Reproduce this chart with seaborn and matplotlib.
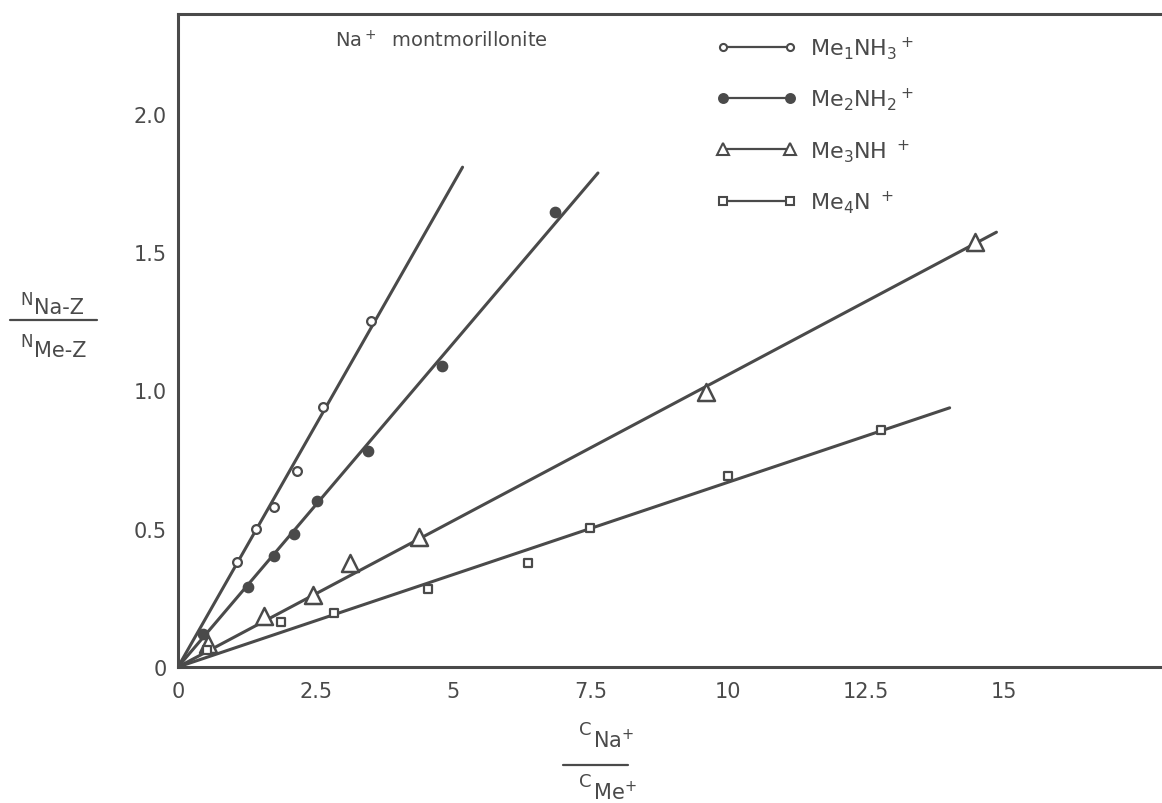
import matplotlib
matplotlib.use("Agg")
import matplotlib.pyplot as plt
import seaborn as sns
import pandas as pd
from matplotlib.lines import Line2D

# Exchange data on Na+ montmorillonite: x = C(Na+)/C(Me+), y = N(Na-Z)/N(Me-Z)
me1_x = [1.08, 1.42, 1.75, 2.16, 2.64, 3.50]
me1_y = [0.38, 0.50, 0.58, 0.71, 0.94, 1.25]

me2_x = [0.45, 1.27, 1.74, 2.11, 2.53, 3.45, 4.80, 6.85]
me2_y = [0.12, 0.29, 0.40, 0.48, 0.60, 0.78, 1.09, 1.645]

me3_x = [0.54, 1.57, 2.46, 3.13, 4.37, 9.59, 14.48]
me3_y = [0.083, 0.184, 0.261, 0.376, 0.470, 0.993, 1.535]

me4_x = [0.52, 1.87, 2.84, 4.55, 6.36, 7.49, 9.99, 12.77]
me4_y = [0.06, 0.164, 0.195, 0.283, 0.376, 0.502, 0.690, 0.858]

# straight-line fits through the origin (start and end of each drawn line)
fit_x = {"me1": [0.0, 5.17], "me2": [0.0, 7.63], "me3": [0.0, 14.87], "me4": [0.0, 14.02]}
fit_y = {"me1": [0.0, 1.807], "me2": [0.0, 1.786], "me3": [0.0, 1.572], "me4": [0.0, 0.937]}

series_labels = {
    "me1": r"Me$_1$NH$_3$$^+$",
    "me2": r"Me$_2$NH$_2$$^+$",
    "me3": r"Me$_3$NH $^+$",
    "me4": r"Me$_4$N $^+$",
}

x_ticks = [0, 2.5, 5, 7.5, 10, 12.5, 15]
x_ticklabels = ["0", "2.5", "5", "7.5", "10", "12.5", "15"]
y_ticks = [0, 0.5, 1.0, 1.5, 2.0]
y_ticklabels = ["0", "0.5", "1.0", "1.5", "2.0"]

INK = "#4a4a4a"

sns.set_style("white")
plt.rcParams["font.family"] = ["DejaVu Sans"]
plt.rcParams["mathtext.fontset"] = "dejavusans"

W, H = 1162, 804
fig = plt.figure(figsize=(W / 100, H / 100), dpi=100)
ax = fig.add_axes([178 / W, 1 - 668 / H, (W - 178) / W, (668 - 15) / H])

styles = {
    "me1": dict(marker="o", s=40, facecolor="white", edgecolor=INK, linewidth=1.6),
    "me2": dict(marker="o", s=55, facecolor=INK, edgecolor=INK, linewidth=1.0),
    "me3": dict(marker="^", s=150, facecolor="white", edgecolor=INK, linewidth=1.8),
    "me4": dict(marker="s", s=40, facecolor="white", edgecolor=INK, linewidth=1.6),
}
points = {"me1": (me1_x, me1_y), "me2": (me2_x, me2_y),
          "me3": (me3_x, me3_y), "me4": (me4_x, me4_y)}

for key in ["me1", "me2", "me3", "me4"]:
    line_df = pd.DataFrame({"x": fit_x[key], "y": fit_y[key]})
    sns.lineplot(data=line_df, x="x", y="y", ax=ax, color=INK, lw=2.2,
                 estimator=None, sort=False, zorder=2)
for key in ["me1", "me2", "me3", "me4"]:
    px, py = points[key]
    sns.scatterplot(x=px, y=py, ax=ax, zorder=3, clip_on=False, **styles[key])

ax.set_xlim(0, (W - 178.7) / 55.0)
ax.set_ylim(0, (668 - 15) / 276.6)
ax.set_xticks(x_ticks)
ax.set_xticklabels(x_ticklabels)
ax.set_yticks(y_ticks)
ax.set_yticklabels(y_ticklabels)
ax.tick_params(direction="in", length=4, width=1.2, colors=INK,
               labelsize=15, labelcolor=INK)
ax.tick_params(axis="x", pad=10)
ax.tick_params(axis="y", pad=8)
ax.set_xlabel("")
ax.set_ylabel("")
for side in ["left", "bottom", "top"]:
    ax.spines[side].set_color(INK)
    ax.spines[side].set_linewidth(2.2)
ax.spines["right"].set_visible(False)

# title inside the frame
ax.text(0.160, 0.960, r"Na$^+$  montmorillonite", transform=ax.transAxes,
        fontsize=14, color=INK, ha="left", va="center")

# legend: marker, line, marker
msizes = {"me1": 6, "me2": 7.5, "me3": 11, "me4": 6.5}
handles = []
for key in ["me1", "me2", "me3", "me4"]:
    st = styles[key]
    handles.append(Line2D([0], [0], color=INK, lw=1.6, marker=st["marker"],
                          markersize=msizes[key] * 0.85,
                          markerfacecolor=st["facecolor"],
                          markeredgecolor=INK, markeredgewidth=1.5))
leg = ax.legend(handles, [series_labels[k] for k in ["me1", "me2", "me3", "me4"]],
                loc="upper left", bbox_to_anchor=(0.527, 1.0), frameon=False,
                numpoints=2, handlelength=3.6, handletextpad=0.6,
                labelspacing=1.1, fontsize=16, labelcolor=INK)

# axis labels built as stacked fractions
fig.text(33 / W, 1 - 300 / H, "N", fontsize=12, color=INK, ha="right", va="center")
fig.text(34 / W, 1 - 308 / H, "Na-Z", fontsize=15, color=INK, ha="left", va="center")
fig.add_artist(Line2D([10 / W, 97 / W], [1 - 321 / H, 1 - 321 / H], color=INK, lw=1.6))
fig.text(33 / W, 1 - 342 / H, "N", fontsize=12, color=INK, ha="right", va="center")
fig.text(34 / W, 1 - 351 / H, "Me-Z", fontsize=15, color=INK, ha="left", va="center")

fig.text(592 / W, 1 - 730 / H, "C", fontsize=13, color=INK, ha="right", va="center")
fig.text(593 / W, 1 - 740 / H, r"Na$^{+}$", fontsize=15, color=INK, ha="left", va="center")
fig.add_artist(Line2D([563 / W, 628 / W], [1 - 766 / H, 1 - 766 / H], color=INK, lw=1.6))
fig.text(592 / W, 1 - 782 / H, "C", fontsize=13, color=INK, ha="right", va="center")
fig.text(593 / W, 1 - 792 / H, r"Me$^{+}$", fontsize=15, color=INK, ha="left", va="center")

fig.savefig("out.png", dpi=100, facecolor="white")
